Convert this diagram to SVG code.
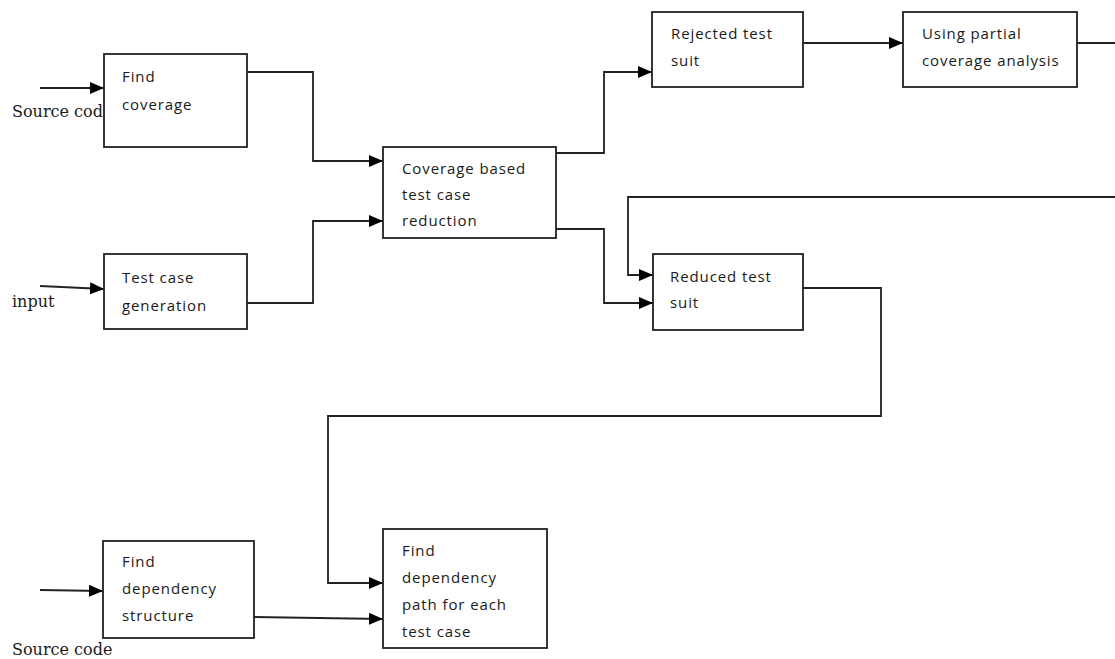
<svg xmlns="http://www.w3.org/2000/svg" width="1115" height="659" viewBox="0 0 1115 659">
  <style>
    .box { fill: #ffffff; stroke: #222222; stroke-width: 1.8; }
    .t { font-family: "Open Sans", "Liberation Sans", sans-serif; font-size: 15px; letter-spacing: 0.9px; fill: #1a1a1a; }
    .lbl { font-family: "DejaVu Serif", "Liberation Serif", serif; font-size: 16px; fill: #1a1a1a; }
    .conn path { fill: none; stroke: #222222; stroke-width: 1.8; }
  </style>
  <defs>
    <marker id="arr" markerUnits="userSpaceOnUse" markerWidth="15" markerHeight="13" refX="14" refY="6" orient="auto">
      <path d="M0,0 L14,6 L0,12 z" fill="#000000"/>
    </marker>
  </defs>
  <rect x="0" y="0" width="1115" height="659" fill="#ffffff"/>

  <g id="labels">
    <text class="lbl" x="12" y="117">Source code</text>
    <text class="lbl" x="12" y="307">input</text>
    <text class="lbl" x="12" y="655">Source code</text>
  </g>

  <g id="connectors" class="conn">
    <path d="M40,88 L104,88" marker-end="url(#arr)"/>
    <path d="M40,286 L104,289" marker-end="url(#arr)"/>
    <path d="M40,590 L103,591" marker-end="url(#arr)"/>
    <path d="M247,72 H313 V161 H383" marker-end="url(#arr)"/>
    <path d="M247,303 H313 V221 H383" marker-end="url(#arr)"/>
    <path d="M556,153 H604 V72 H652" marker-end="url(#arr)"/>
    <path d="M556,229 H604 V303 H653" marker-end="url(#arr)"/>
    <path d="M803,43 H903" marker-end="url(#arr)"/>
    <path d="M1077,43 H1115"/>
    <path d="M1115,197 H628 V275 H653" marker-end="url(#arr)"/>
    <path d="M803,288 H881 V416 H328 V583 H383" marker-end="url(#arr)"/>
    <path d="M254,617 L383,619" marker-end="url(#arr)"/>
  </g>

  <g id="find-coverage">
    <rect class="box" x="104" y="54" width="143" height="93"/>
    <text class="t" x="122" y="82">Find</text>
    <text class="t" x="122" y="110">coverage</text>
  </g>
  <g id="test-case-generation">
    <rect class="box" x="104" y="254" width="143" height="75"/>
    <text class="t" x="122" y="283">Test case</text>
    <text class="t" x="122" y="311">generation</text>
  </g>
  <g id="coverage-based-reduction">
    <rect class="box" x="383" y="147" width="173" height="91"/>
    <text class="t" x="402" y="174">Coverage based</text>
    <text class="t" x="402" y="200">test case</text>
    <text class="t" x="402" y="226">reduction</text>
  </g>
  <g id="rejected-test-suit">
    <rect class="box" x="652" y="12" width="151" height="75"/>
    <text class="t" x="671" y="39">Rejected test</text>
    <text class="t" x="671" y="66">suit</text>
  </g>
  <g id="partial-coverage-analysis">
    <rect class="box" x="903" y="12" width="174" height="75"/>
    <text class="t" x="922" y="39">Using partial</text>
    <text class="t" x="922" y="66">coverage analysis</text>
  </g>
  <g id="reduced-test-suit">
    <rect class="box" x="653" y="254" width="150" height="76"/>
    <text class="t" x="670" y="282">Reduced test</text>
    <text class="t" x="670" y="308">suit</text>
  </g>
  <g id="find-dependency-structure">
    <rect class="box" x="103" y="541" width="151" height="97"/>
    <text class="t" x="122" y="567">Find</text>
    <text class="t" x="122" y="594">dependency</text>
    <text class="t" x="122" y="621">structure</text>
  </g>
  <g id="find-dependency-path">
    <rect class="box" x="383" y="529" width="164" height="119"/>
    <text class="t" x="402" y="556">Find</text>
    <text class="t" x="402" y="583">dependency</text>
    <text class="t" x="402" y="610">path for each</text>
    <text class="t" x="402" y="637">test case</text>
  </g>
</svg>
